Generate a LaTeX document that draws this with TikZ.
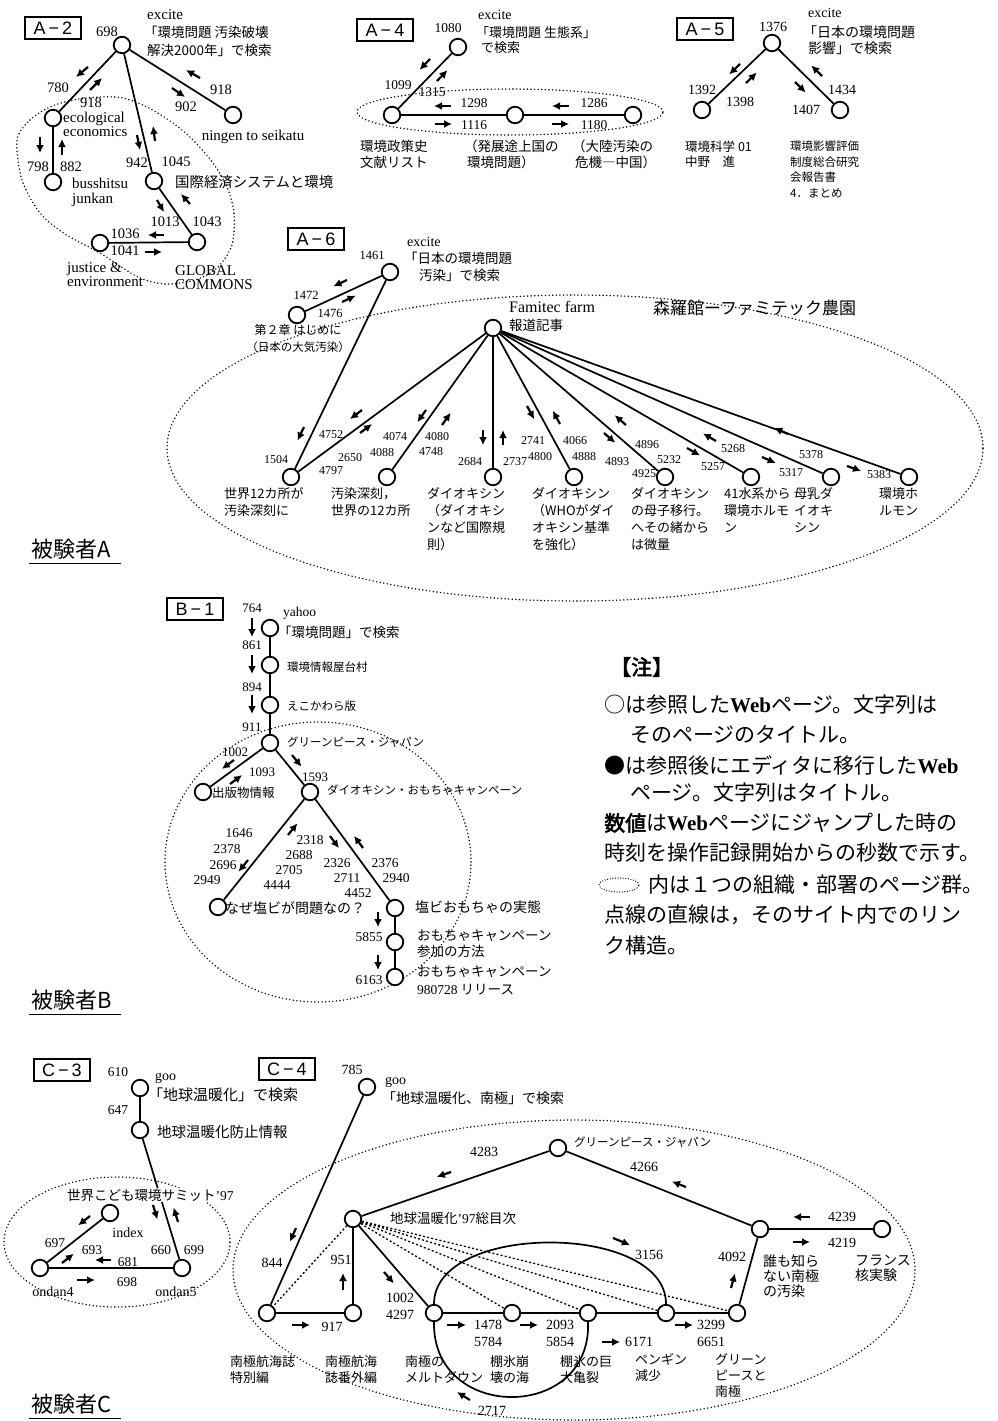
\documentclass[tikz,border=0pt]{standalone}
\usepackage{fontspec}
\setmainfont{Liberation Serif}
\newfontfamily\jp{Noto Sans CJK JP}
\newfontfamily\jpb[FakeBold=2.5]{Noto Sans CJK JP}
\newfontfamily\hv{Liberation Sans}
\usetikzlibrary{arrows.meta}
\newcount\lblcnt
\newcommand\mylb[3][]{\global\advance\lblcnt by 1\relax\node[lbl,#1] (L\the\lblcnt) at (#2) {#3};}
\newcommand\myarr[2]{\draw[arw] (#1) -- (#2);}
\tikzset{
 pg/.style={circle,draw,line width=1.8pt,minimum size=16.5pt,inner sep=0pt,fill=white},
 edge/.style={line width=1.7pt},
 dl/.style={line width=1.3pt,dash pattern=on 2pt off 2.2pt},
 dell/.style={line width=1.6pt,dash pattern=on 0pt off 3.6pt,line cap=round},
 arw/.style={-{Latex[length=8pt,width=8pt]},line width=2.2pt},
 lbl/.style={inner sep=0pt},
 nm/.style={font=\fontsize{#1}{#1}\selectfont},
 jt/.style n args={2}{font=\jp\fontsize{#1}{#2}\selectfont,align=left},
 rt/.style n args={2}{font=\fontsize{#1}{#2}\selectfont,align=left},
 bx/.style={draw,line width=1.4pt,minimum width=56pt,minimum height=22pt,inner sep=0pt,font=\hv\fontsize{18}{18}\selectfont},
}
\begin{document}
\begin{tikzpicture}[x=1pt,y=-1pt]
\useasboundingbox (0,0) rectangle (997,1421);

%%%%%%%% A-2
\node[bx] (bxA2) at (53,28) {A\kern3pt−\kern3pt2};
\draw[dell] plot[smooth cycle] coordinates {(17,140) (30,120) (50,107) (73,100) (100,97) (123,98) (147,107) (173,123) (193,140) (213,163) (227,187) (234,213) (232,245) (217,268) (195,280) (165,284) (138,277) (100,253) (65,234) (40,213) (22,180)};
\node[pg] (a2t) at (122,45) {};
\node[pg] (a2e) at (53,118) {};
\node[pg] (a2b) at (53,182) {};
\node[pg] (a2k) at (154,181) {};
\node[pg] (a2n) at (233,115) {};
\node[pg] (a2j) at (100,243) {};
\node[pg] (a2g) at (197,242) {};
\draw[edge] (a2t)--(a2e) (a2t)--(a2k) (a2t)--(a2n) (a2e)--(a2b) (a2k)--(a2g) (a2j)--(a2g);
\mylb[rt={15}{15},anchor=west]{147,15}{excite}
\mylb[jt={13.5}{17},anchor=west]{144,32}{「環境問題 汚染破壊}
\mylb[jt={13.5}{17},anchor=west]{147,50}{解決2000年」で検索}
\mylb[nm=14.5]{107,32}{698}
\mylb[nm=14.5]{58,88}{780}
\mylb[nm=14.5]{91,103}{918}
\mylb[nm=14.5]{221,90}{918}
\mylb[nm=14.5]{186,107}{902}
\mylb[nm=14.5]{38,167}{798}
\mylb[nm=14.5]{71,167}{882}
\mylb[nm=14.5]{137,163}{942}
\mylb[nm=14.5]{176,162}{1045}
\mylb[nm=14.5]{165,222}{1013}
\mylb[nm=14.5]{207,222}{1043}
\mylb[nm=14.5]{125,234}{1036}
\mylb[nm=14.5]{125,251}{1041}
\mylb[rt={15}{14},anchor=north west]{63,112}{ecological\\economics}
\mylb[rt={15}{15}]{253,137}{ningen to seikatu}
\mylb[rt={15}{15},anchor=north west]{72,178}{busshitsu\\junkan}
\mylb[jt={14.4}{14.4},anchor=west]{175,182}{国際経済システムと環境}
\mylb[rt={15}{14.5},anchor=north west]{67,262}{justice \&\\environment}
\mylb[rt={15}{14},anchor=north west]{175,265}{GLOBAL\\COMMONS}
\myarr{88,67}{76,77}
\myarr{90,90}{102,78}
\myarr{200,78}{186,70}
\myarr{172,88}{185,97}
\myarr{40,137}{40,153}
\myarr{62,155}{62,139}
\myarr{137,135}{140,150}
\myarr{155,141}{153,126}
\myarr{157,200}{164,212}
\myarr{190,204}{181,194}
\myarr{164,235}{148,235}
\myarr{145,252}{162,252}

%%%%%%%% A-4
\node[bx] (bxA4) at (385,30) {A\kern3pt−\kern3pt4};
\draw[dell] (510,112) ellipse (153pt and 23pt);
\node[pg] (a4t) at (458,47) {};
\node[pg] (a4l) at (392,115) {};
\node[pg] (a4m) at (515,115) {};
\node[pg] (a4r) at (633,115) {};
\draw[edge] (a4t)--(a4l) (a4l)--(a4m) (a4m)--(a4r);
\mylb[rt={14}{14},anchor=west]{478,15}{excite}
\mylb[jt={13}{16},anchor=west]{476,33}{「環境問題 生態系」}
\mylb[jt={13}{16},anchor=west]{481,48}{で検索}
\mylb[nm=13.5]{448,28}{1080}
\mylb[nm=13.5]{398,85}{1099}
\mylb[nm=13.5]{432,92}{1315}
\mylb[nm=13.5]{474,103}{1298}
\mylb[nm=13.5]{474,125}{1116}
\mylb[nm=13.5]{594,103}{1286}
\mylb[nm=13.5]{594,125}{1180}
\myarr{430,59}{419.6,69.8}
\myarr{437,81}{447.4,70.2}
\myarr{451,106}{434,106}
\myarr{435,124}{452,124}
\myarr{569,106}{552,106}
\myarr{552,124}{569,124}
\mylb[jt={13.5}{16},anchor=north west]{360,140}{環境政策史\\文献リスト}
\mylb[jt={13.5}{16},anchor=north west]{464,140}{（発展途上国の\\\ 環境問題）}
\mylb[jt={13.5}{16},anchor=north west]{572,140}{（大陸汚染の\\\ 危機―中国）}

%%%%%%%% A-5
\node[bx] (bxA5) at (705,29) {A\kern3pt−\kern3pt5};
\node[pg] (a5t) at (772,43) {};
\node[pg] (a5l) at (702,110) {};
\node[pg] (a5r) at (840,110) {};
\draw[edge] (a5t)--(a5l) (a5t)--(a5r);
\mylb[rt={14}{14},anchor=west]{808,13}{excite}
\mylb[jt={14}{16},anchor=west]{803,32}{「日本の環境問題}
\mylb[jt={14}{16},anchor=west]{808,48}{影響」で検索}
\mylb[nm=14]{773,27}{1376}
\mylb[nm=14]{702,90}{1392}
\mylb[nm=14]{740,102}{1398}
\mylb[nm=14]{806,110}{1407}
\mylb[nm=14]{842,90}{1434}
\myarr{740,64}{729.2,74.4}
\myarr{746,83}{756.8,72.6}
\myarr{795,82}{805.7,92.5}
\myarr{822,76}{811.3,65.5}
\mylb[jt={12.5}{15},anchor=north west]{685,141}{環境科学 01\\中野　進}
\mylb[jt={11.5}{15.5},anchor=north west]{790,141}{環境影響評価\\制度総合研究\\会報告書\\4．まとめ}

%%%%%%%% A-6
\node[bx] (bxA6) at (316,239) {A\kern3pt−\kern3pt6};
\draw[dell] (575,448) ellipse (408pt and 153pt);
\node[pg] (a6t) at (390,272) {};
\node[pg] (a6c) at (297,315) {};
\node[pg] (a6f) at (493,328) {};
\node[pg] (a6b1) at (291,477) {};
\node[pg] (a6b2) at (387,477) {};
\node[pg] (a6b3) at (493,477) {};
\node[pg] (a6b4) at (574,477) {};
\node[pg] (a6b5) at (665,477) {};
\node[pg] (a6b6) at (751,477) {};
\node[pg] (a6b7) at (831,477) {};
\node[pg] (a6b8) at (909,477) {};
\draw[edge] (a6t)--(a6c) (a6t)--(a6b1);
\foreach \k in {1,...,8} {\draw[edge] (a6f)--(a6b\k);}
\mylb[rt={14}{14},anchor=west]{407,242}{excite}
\mylb[jt={13.5}{16},anchor=west]{404,258}{「日本の環境問題}
\mylb[jt={13.5}{16},anchor=west]{419,275}{汚染」で検索}
\mylb[nm=12.5]{372,255}{1461}
\mylb[nm=12.5]{306,295}{1472}
\mylb[nm=12.5]{330,313}{1476}
\myarr{347,280}{333.4,286.3}
\myarr{342,302}{355.6,295.7}
\mylb[jt={12}{12}]{298,330}{第２章 はじめに}
\mylb[jt={11.5}{12}]{298,347}{（日本の大気汚染）}
\mylb[rt={16}{16},anchor=west]{509,307}{Famitec farm}
\mylb[jt={13.5}{16},anchor=west]{509,325}{報道記事}
\mylb[jt={17}{17},anchor=west]{653,308}{森羅館ーファミテック農園}
\mylb[nm=12]{276,460}{1504}
\mylb[nm=12]{331,435}{4752}
\mylb[nm=12]{350,458}{2650}
\mylb[nm=12]{331,471}{4797}
\mylb[nm=12]{395,437}{4074}
\mylb[nm=12]{382,453}{4088}
\mylb[nm=12]{437,437}{4080}
\mylb[nm=12]{431,452}{4748}
\mylb[nm=12]{470,462}{2684}
\mylb[nm=12]{515,462}{2737}
\mylb[nm=12]{533,441}{2741}
\mylb[nm=12]{540,457}{4800}
\mylb[nm=12]{575,441}{4066}
\mylb[nm=12]{584,457}{4888}
\mylb[nm=12]{647,445}{4896}
\mylb[nm=12]{617,462}{4893}
\mylb[nm=12]{669,460}{5232}
\mylb[nm=12]{644,474}{4925}
\mylb[nm=12]{733,449}{5268}
\mylb[nm=12]{713,467}{5257}
\mylb[nm=12]{811,455}{5378}
\mylb[nm=12]{791,473}{5317}
\mylb[nm=12]{879,475}{5383}
\myarr{304,427}{297.5,440.5}
\myarr{362,410}{350,419}
\myarr{360,433}{372,424}
\myarr{426,410}{417.3,422.2}
\myarr{442,425}{450.7,412.8}
\myarr{483,430}{483,445}
\myarr{503,445}{503,430}
\myarr{527,406}{534.2,419.2}
\myarr{560,424}{552.8,410.8}
\myarr{604,433}{615.3,442.8}
\myarr{626,425}{614.7,415.2}
\myarr{687,448}{700,455.5}
\myarr{716,441}{703,433.5}
\myarr{762,457}{775.7,463}
\myarr{788,434}{774.3,428}
\myarr{847,466}{861.1,471}
\mylb[jt={13}{17},anchor=north west]{224,487.5}{世界12カ所が\\汚染深刻に}
\mylb[jt={13}{17},anchor=north west]{331,487.5}{汚染深刻，\\世界の12カ所}
\mylb[jt={13}{17},anchor=north west]{427,487.5}{ダイオキシン\\（ダイオキシ\\ンなど国際規\\則）}
\mylb[jt={13}{17},anchor=north west]{532,487.5}{ダイオキシン\\（WHOがダイ\\オキシン基準\\を強化）}
\mylb[jt={13}{17},anchor=north west]{631,487.5}{ダイオキシン\\の母子移行。\\へその緒から\\は微量}
\mylb[jt={13}{17},anchor=north west]{724,487.5}{41水系から\\環境ホルモ\\ン}
\mylb[jt={13}{17},anchor=north west]{794,487.5}{母乳ダ\\イオキ\\シン}
\mylb[jt={13}{17},anchor=north west]{879,487.5}{環境ホ\\ルモン}

%%%%%%%% subject labels
\mylb[jt={22}{22},anchor=west]{31,549}{被験者A}
\draw[line width=1.3pt] (L\the\lblcnt.south west) ++(-2,4) -- ++(92,0);
\mylb[jt={22}{22},anchor=west]{31,1000}{被験者B}
\draw[line width=1.3pt] (L\the\lblcnt.south west) ++(-2,4) -- ++(92,0);
\mylb[jt={22}{22},anchor=west]{31,1404}{被験者C}
\draw[line width=1.3pt] (L\the\lblcnt.south west) ++(-2,4) -- ++(92,0);

%%%%%%%% B-1
\node[bx] (bxB1) at (195,609) {B\kern3pt−\kern3pt1};
\draw[dell] (318,862) ellipse (153pt and 140pt);
\node[pg] (b1y) at (270,628) {};
\node[pg] (b1k) at (270,665) {};
\node[pg] (b1e) at (270,705) {};
\node[pg] (b1g) at (270,743) {};
\node[pg] (b1s) at (203,792) {};
\node[pg] (b1d) at (310,792) {};
\node[pg] (b1n) at (218,907) {};
\node[pg] (b1j) at (395,908) {};
\node[pg] (b1o) at (395,942) {};
\node[pg] (b1r) at (395,977) {};
\draw[edge] (b1y)--(b1k) (b1k)--(b1e) (b1e)--(b1g) (b1g)--(b1s) (b1g)--(b1d) (b1d)--(b1n) (b1d)--(b1j) (b1j)--(b1o) (b1o)--(b1r);
\mylb[rt={13.5}{13.5},anchor=west]{283,613}{yahoo}
\mylb[jt={13.5}{13.5},anchor=west]{278,632}{「環境問題」で検索}
\mylb[jt={11.5}{11.5},anchor=west]{287,667}{環境情報屋台村}
\mylb[jt={11.5}{11.5},anchor=west]{287,706}{えこかわら版}
\mylb[jt={11.5}{11.5},anchor=west]{287,742}{グリーンピース・ジャパン}
\mylb[jt={12.5}{12.5},anchor=west]{212,793}{出版物情報}
\mylb[jt={11.5}{11.5},anchor=west]{327,790}{ダイオキシン・おもちゃキャンペーン}
\mylb[jt={14}{14},anchor=west]{225,908}{なぜ塩ビが問題なの？}
\mylb[jt={14}{14},anchor=west]{415,907}{塩ビおもちゃの実態}
\mylb[jt={13.5}{16},anchor=north west]{417,930}{おもちゃキャンペーン\\参加の方法}
\mylb[jt={13.5}{18},anchor=north west]{417,966}{おもちゃキャンペーン\\{\rmfamily 980728} リリース}
\mylb[nm=13]{252,608}{764}
\mylb[nm=13]{252,645}{861}
\mylb[nm=13]{252,687}{894}
\mylb[nm=13]{252,727}{911}
\mylb[nm=13]{235,752}{1002}
\mylb[nm=13]{262,772}{1093}
\mylb[nm=13]{315,777}{1593}
\mylb[nm=13.5]{239,833}{1646}
\mylb[nm=13.5]{227,849}{2378}
\mylb[nm=13.5]{223,865}{2696}
\mylb[nm=13.5]{207,880}{2949}
\mylb[nm=13.5]{310,840}{2318}
\mylb[nm=13.5]{299,855}{2688}
\mylb[nm=13.5]{289,870}{2705}
\mylb[nm=13.5]{277,885}{4444}
\mylb[nm=13.5]{337,863}{2326}
\mylb[nm=13.5]{347,878}{2711}
\mylb[nm=13.5]{358,893}{4452}
\mylb[nm=13.5]{385,863}{2376}
\mylb[nm=13.5]{396,878}{2940}
\mylb[nm=13.5]{369,937}{5855}
\mylb[nm=13.5]{369,980}{6163}
\myarr{252,618}{252,637}
\myarr{252,655}{252,674}
\myarr{252,695}{252,714}
\myarr{234,760}{221.9,768.9}
\myarr{230,784}{242.1,775.1}
\myarr{292,755}{301.5,766.6}
\myarr{248,860}{238.6,871.7}
\myarr{288,835}{297.4,823.3}
\myarr{330,836}{338.9,848.1}
\myarr{363,848}{354.1,835.9}
\myarr{378,912}{378,927}
\myarr{378,955}{378,970}

%%%%%%%% Note
\mylb[font=\jpb\fontsize{21}{21}\selectfont,anchor=west]{610,667}{【注】}
\mylb[jt={21}{21},anchor=west]{604,705}{○は参照した{\rmfamily\bfseries Web}ページ。文字列は}
\mylb[jt={21}{21},anchor=west]{630,735}{そのページのタイトル。}
\mylb[jt={21}{21},anchor=west]{604,765}{●は参照後にエディタに移行した{\rmfamily\bfseries Web}}
\mylb[jt={21}{21},anchor=west]{630,793}{ページ。文字列はタイトル。}
\mylb[jt={21}{21},anchor=west]{604,823}{{\jpb 数値}は{\rmfamily\bfseries Web}ページにジャンプした時の}
\mylb[jt={21}{21},anchor=west]{604,853}{時刻を操作記録開始からの秒数で示す。}
\draw[dell,line width=1.3pt,dash pattern=on 0pt off 2.6pt] (619,885) ellipse (20pt and 7pt);
\mylb[jt={21}{21},anchor=west]{648,885}{内は１つの組織・部署のページ群。}
\mylb[jt={21}{21},anchor=west]{604,915}{点線の直線は，そのサイト内でのリン}
\mylb[jt={21}{21},anchor=west]{604,945}{ク構造。}

%%%%%%%% C-3
\node[bx] (bxC3) at (62,1070) {C\kern3pt−\kern3pt3};
\draw[dell] (117,1242) ellipse (113pt and 65pt);
\node[pg] (c3g) at (140,1088) {};
\node[pg] (c3h) at (140,1130) {};
\node[pg] (c3i) at (110,1213) {};
\node[pg] (c3a) at (40,1268) {};
\node[pg] (c3b) at (182,1268) {};
\draw[edge] (c3g)--(c3h) (c3h)--(c3b) (c3i)--(c3a) (c3a)--(c3b);
\mylb[rt={14}{14},anchor=west]{155,1078}{goo}
\mylb[jt={15}{15},anchor=west]{148,1095}{「地球温暖化」で検索}
\mylb[jt={14.5}{14.5},anchor=west]{157,1132}{地球温暖化防止情報}
\mylb[jt={13.5}{13.5},anchor=west,fill=white,inner sep=1pt]{66,1195}{世界こども環境サミット{\rmfamily ’97}}
\mylb[rt={14}{14}]{128,1233}{index}
\mylb[rt={14}{14}]{53,1292}{ondan4}
\mylb[rt={14}{14}]{176,1292}{ondan5}
\mylb[nm=13.5]{118,1072}{610}
\mylb[nm=13.5]{118,1110}{647}
\mylb[nm=13.5]{55,1243}{697}
\mylb[nm=13.5]{92,1250}{693}
\mylb[nm=13.5]{128,1262}{681}
\mylb[nm=13.5]{127,1282}{698}
\mylb[nm=13.5]{161,1250}{660}
\mylb[nm=13.5]{194,1250}{699}
\myarr{90,1216}{78.2,1225.3}
\myarr{62,1263}{73.8,1253.7}
\myarr{111,1260}{95,1260}
\myarr{77,1280}{95,1280}
\myarr{153,1205}{157.4,1219.4}
\myarr{178,1222}{173.6,1207.6}

%%%%%%%% C-4
\node[bx] (bxC4) at (287,1069) {C\kern3pt−\kern3pt4};
\draw[dell] (574,1270) ellipse (341pt and 150pt);
\node[pg] (c4g) at (367,1087) {};
\node[pg] (c4s1) at (267,1313) {};
\node[pg] (c4s2) at (353,1313) {};
\node[pg] (c4m) at (353,1219) {};
\node[pg] (c4p) at (558,1148) {};
\node[pg] (c4d) at (760,1229) {};
\node[pg] (c4f) at (882,1229) {};
\node[pg] (c4r1) at (434,1313) {};
\node[pg] (c4r2) at (512,1313) {};
\node[pg] (c4r3) at (588,1313) {};
\node[pg] (c4r4) at (666,1313) {};
\node[pg] (c4r5) at (737,1313) {};
\draw[edge] (c4g)--(c4s1) (c4s1)--(c4s2) (c4s2)--(c4m) (c4m)--(c4p) (c4p)--(c4d) (c4f)--(c4d) (c4r5)--(c4d) (c4m)--(c4r1) (c4r1)--(c4r2) (c4r2)--(c4r3) (c4r3)--(c4r4) (c4r4)--(c4r5);
\draw[dl] (c4m)--(c4s1) (c4m)--(c4r2) (c4m)--(c4r3) (c4m)--(c4r4) (c4m)--(c4r5);
\draw[edge] (c4r1.north) .. controls (434,1222) and (666,1222) .. (c4r4.north);
\draw[edge] (c4r1.south) .. controls (432,1422) and (592,1422) .. (c4r3.south);
\mylb[rt={14}{14},anchor=west]{385,1082}{goo}
\mylb[jt={14}{14},anchor=west]{382,1098}{「地球温暖化、南極」で検索}
\mylb[jt={13.5}{13.5},anchor=west]{390,1218}{地球温暖化{\rmfamily ’97}総目次}
\mylb[jt={11.5}{11.5},anchor=west]{574,1142}{グリーンピース・ジャパン}
\mylb[jt={14}{15},anchor=north west]{763,1255}{誰も知ら\\ない南極\\の汚染}
\mylb[jt={14}{15},anchor=north west]{855,1255}{フランス\\核実験}
\mylb[jt={13}{16},anchor=north west]{230,1355.5}{南極航海誌\\特別編}
\mylb[jt={13}{16},anchor=north west]{325,1355.5}{南極航海\\誌番外編}
\mylb[jt={13}{16},anchor=north west]{405,1355.5}{南極の\\メルトダウン}
\mylb[jt={13}{16},anchor=north west]{490,1355.5}{棚氷崩\\壊の海}
\mylb[jt={13}{16},anchor=north west]{560,1355.5}{棚氷の巨\\大亀裂}
\mylb[jt={13}{16},anchor=north west]{635,1353.5}{ペンギン\\減少}
\mylb[jt={13}{16},anchor=north west]{715,1353.5}{グリーン\\ピースと\\南極}
\mylb[nm=14]{352,1070}{785}
\mylb[nm=14]{272,1263}{844}
\mylb[nm=14]{332,1327}{917}
\mylb[nm=14]{341,1260}{951}
\mylb[nm=14]{484,1152}{4283}
\mylb[nm=14]{644,1167}{4266}
\mylb[nm=14]{842,1217}{4239}
\mylb[nm=14]{842,1243}{4219}
\mylb[nm=14]{732,1257}{4092}
\mylb[nm=14]{400,1298}{1002}
\mylb[nm=14]{400,1315}{4297}
\mylb[nm=14]{488,1325}{1478}
\mylb[nm=14]{488,1342}{5784}
\mylb[nm=14]{560,1325}{2093}
\mylb[nm=14]{560,1342}{5854}
\mylb[nm=14]{639,1342}{6171}
\mylb[nm=14]{711,1325}{3299}
\mylb[nm=14]{711,1342}{6651}
\mylb[nm=14]{649,1255}{3156}
\mylb[nm=14]{492,1411}{2717}
\myarr{296,1228}{289.9,1241.7}
\myarr{292,1325}{310,1325}
\myarr{343,1290}{343,1273}
\myarr{451,1172}{436.8,1176.9}
\myarr{686,1187}{672,1181.5}
\myarr{810,1217}{793,1217}
\myarr{793,1242}{810,1242}
\myarr{731,1288}{735,1273.5}
\myarr{384,1272}{393.8,1283.4}
\myarr{447,1325}{466,1325}
\myarr{520,1325}{538,1325}
\myarr{602,1342}{620,1342}
\myarr{675,1325}{693,1325}
\myarr{613,1238}{630,1245}
\myarr{470,1400}{457,1392}
\end{tikzpicture}
\end{document}
